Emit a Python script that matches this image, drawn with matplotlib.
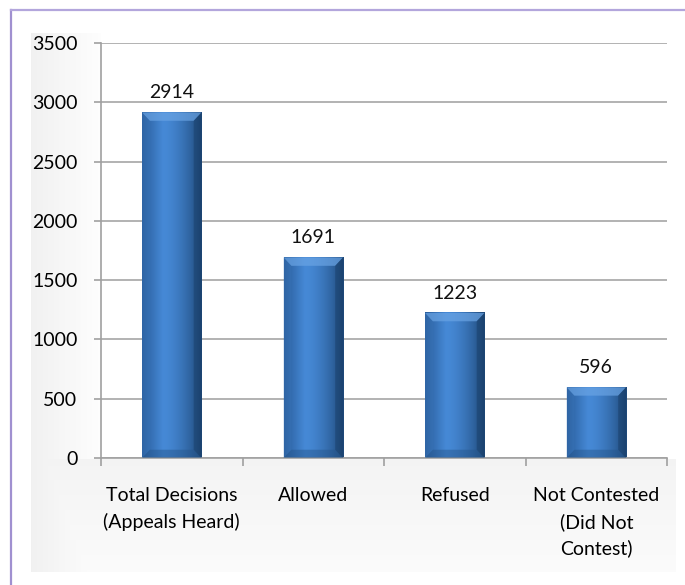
import numpy as np
import matplotlib
matplotlib.use("Agg")
import matplotlib.pyplot as plt
from matplotlib.patches import Polygon
from matplotlib.lines import Line2D

categories = ["Total Decisions\n(Appeals Heard)", "Allowed", "Refused", "Not Contested\n(Did Not\nContest)"]
values = [2914, 1691, 1223, 596]
yticks = [0, 500, 1000, 1500, 2000, 2500, 3000, 3500]

plt.rcParams['font.family'] = ['Lato', 'DejaVu Sans']

W, H = 685, 585
fig = plt.figure(figsize=(W / 100, H / 100), dpi=100)
fig.patch.set_facecolor('white')

# background panel with soft gray shading (left & bottom)
px0, py0, px1, py1 = 31, 33, 676, 572
bg = fig.add_axes([px0 / W, 1 - py1 / H, (px1 - px0) / W, (py1 - py0) / H])
bg.set_axis_off()
nx, ny = px1 - px0, py1 - py0
xx = np.arange(nx)[None, :].repeat(ny, 0)
yy = np.arange(ny)[:, None].repeat(nx, 1)
img = np.ones((ny, nx))
left_w = 101 - px0
img = np.where(xx < left_w, 0.945 + 0.05 * (xx / left_w), img)
bot = 458 - py0
img = np.where(yy > bot, np.minimum(img, 0.955 + 0.03 * ((yy - bot) / (ny - bot))), img)
bg.imshow(np.dstack([img] * 3), extent=(0, 1, 0, 1), aspect='auto', interpolation='bilinear')
bg.set_xlim(0, 1); bg.set_ylim(0, 1)

# purple border
fig.add_artist(Line2D([11 / W, 11 / W], [0, 1 - 10 / H], color='#a090d0', lw=1.6))
fig.add_artist(Line2D([11 / W, 1], [1 - 10 / H, 1 - 10 / H], color='#b3a6dc', lw=1.6))

ax = fig.add_axes([101 / W, 1 - 458 / H, (667 - 101) / W, (458 - 43) / H])
ax.set_facecolor('white')
ax.set_xlim(-0.5, len(values) - 0.5)
ax.set_ylim(0, 3500)
ax.set_yticks(yticks)
ax.yaxis.grid(True, color='#a6a6a6', lw=1.2)
ax.set_axisbelow(True)
for s in ['top', 'right']:
    ax.spines[s].set_visible(False)
for s in ['left', 'bottom']:
    ax.spines[s].set_color('#a0a0a0')
    ax.spines[s].set_linewidth(1.2)
ax.tick_params(axis='y', length=5, color='#a0a0a0', labelsize=14, pad=12, width=1.2)
ax.set_xticks(np.arange(-0.5, len(values), 1.0))
ax.set_xticklabels([])
ax.set_xticks(np.arange(len(values)), minor=True)
ax.set_xticklabels(categories, minor=True, fontsize=14, linespacing=1.58)
ax.tick_params(axis='x', which='major', length=6, color='#a0a0a0', width=1.2)
ax.tick_params(axis='x', which='minor', length=0, pad=21)
for lab in ax.get_xticklabels(minor=True):
    lab.set_verticalalignment('top')
    lab.set_multialignment('center')

bw = 0.42
# horizontal gradient for bars
gx = np.linspace(0, 1, 64)
c_left = np.array([0x2a, 0x5e, 0x9c]) / 255
c_mid = np.array([0x46, 0x89, 0xd6]) / 255
c_right = np.array([0x1e, 0x48, 0x78]) / 255
grad = np.zeros((1, 64, 3))
for i, t in enumerate(gx):
    if t < 0.35:
        f = t / 0.35
        c = c_left * (1 - f) + c_mid * f
    else:
        f = (t - 0.35) / 0.65
        c = c_mid * (1 - f ** 1.6) + c_right * f ** 1.6
    grad[0, i] = c

bev_x = 0.055
bev_y = 70
for i, v in enumerate(values):
    x0, x1 = i - bw / 2, i + bw / 2
    ax.imshow(grad, extent=(x0, x1, 0, v), aspect='auto', zorder=2, interpolation='bilinear')
    # top bevel (lighter)
    ax.add_patch(Polygon([(x0, v), (x1, v), (x1 - bev_x, v - bev_y), (x0 + bev_x, v - bev_y)],
                         closed=True, facecolor='#6aa4e4', edgecolor='none', alpha=0.7, zorder=3))
    # bottom bevel (darker)
    ax.add_patch(Polygon([(x0, 0), (x1, 0), (x1 - bev_x, bev_y), (x0 + bev_x, bev_y)],
                         closed=True, facecolor='#25558a', edgecolor='none', alpha=0.45, zorder=3))
    # left bevel
    ax.add_patch(Polygon([(x0, 0), (x0 + bev_x, bev_y), (x0 + bev_x, v - bev_y), (x0, v)],
                         closed=True, facecolor='#3a74b8', edgecolor='none', alpha=0.35, zorder=3))
    # right bevel
    ax.add_patch(Polygon([(x1, 0), (x1 - bev_x, bev_y), (x1 - bev_x, v - bev_y), (x1, v)],
                         closed=True, facecolor='#173b63', edgecolor='none', alpha=0.45, zorder=3))
    ax.annotate(str(v), (i, v), xytext=(0, 8), textcoords='offset points',
                ha='center', va='bottom', fontsize=14, color='#111111')

fig.savefig('out.png', dpi=100)
